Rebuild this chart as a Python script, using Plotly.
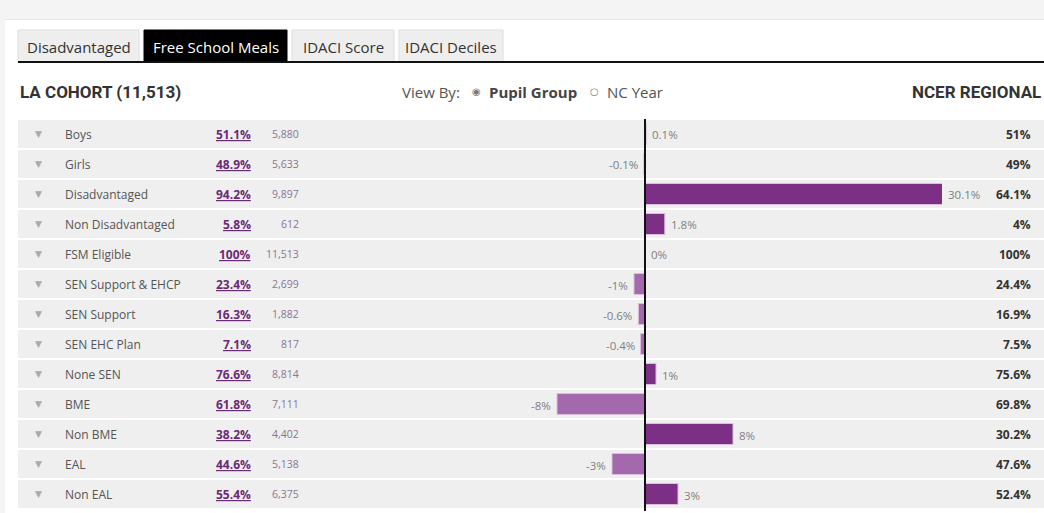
import plotly.graph_objects as go

# ---------------- data ----------------
groups = ["Boys", "Girls", "Disadvantaged", "Non Disadvantaged", "FSM Eligible",
          "SEN Support & EHCP", "SEN Support", "SEN EHC Plan", "None SEN",
          "BME", "Non BME", "EAL", "Non EAL"]
la_pct = [51.1, 48.9, 94.2, 5.8, 100, 23.4, 16.3, 7.1, 76.6, 61.8, 38.2, 44.6, 55.4]
la_count = [5880, 5633, 9897, 612, 11513, 2699, 1882, 817, 8814, 7111, 4402, 5138, 6375]
regional_pct = [51, 49, 64.1, 4, 100, 24.4, 16.9, 7.5, 75.6, 69.8, 30.2, 47.6, 52.4]
difference = [0.1, -0.1, 30.1, 1.8, 0, -1, -0.6, -0.4, 1, -8, 8, -3, 3]
tabs = ["Disadvantaged", "Free School Meals", "IDACI Score", "IDACI Deciles"]
active_tab = "Free School Meals"
cohort_title = "LA COHORT (11,513)"
regional_title = "NCER REGIONAL"

# ---------------- geometry (pixels) ----------------
W, H = 1044, 513
ROW_TOP, ROW_H = 119, 30
N = len(groups)
ROW_BOTTOM = ROW_TOP + ROW_H * N
ZERO_PX = 645
PX_PER_PCT = 11.0
BAR_LEFT_PX, BAR_RIGHT_PX = 300, 942
X_MIN = -(ZERO_PX - BAR_LEFT_PX) / PX_PER_PCT
X_MAX = (BAR_RIGHT_PX - ZERO_PX) / PX_PER_PCT

POS_COL = "#7b3085"
NEG_COL = "#a468ad"
FONT = "Open Sans, DejaVu Sans, sans-serif"
HEAD_FONT = "Roboto, Liberation Sans, sans-serif"


def px(x):
    return x / W


def py(y):
    return 1 - y / H


fig = go.Figure()

colors = [POS_COL if v >= 0 else NEG_COL for v in difference]
fig.add_trace(go.Bar(
    x=difference, y=list(range(N)), orientation="h", base=0,
    marker=dict(color=colors, line=dict(color="#d9bfdc", width=1)),
    width=0.7, hoverinfo="skip", showlegend=False,
))

shapes = []
annotations = []

# page background band / panel
shapes.append(dict(type="rect", xref="paper", yref="paper", x0=0, x1=1, y0=py(19), y1=1,
                   fillcolor="#f4f4f4", line_width=0, layer="below"))
shapes.append(dict(type="rect", xref="paper", yref="paper", x0=0, x1=px(5), y0=0, y1=1,
                   fillcolor="#f4f4f4", line_width=0, layer="below"))
shapes.append(dict(type="line", xref="paper", yref="paper", x0=px(5), x1=1, y0=py(19.5), y1=py(19.5),
                   line=dict(color="#e6e6e6", width=1), layer="below"))

# tabs
tab_x = [(18, 139), (144, 287), (292, 394), (399, 503)]
for name, (a, b) in zip(tabs, tab_x):
    active = name == active_tab
    shapes.append(dict(type="rect", xref="paper", yref="paper", x0=px(a), x1=px(b),
                       y0=py(62), y1=py(30),
                       fillcolor="#000000" if active else "#eeeeee",
                       line=dict(color="#000000" if active else "#dddddd", width=1), layer="below"))
    annotations.append(dict(xref="paper", yref="paper", x=px((a + b) / 2), y=py(47),
                            text=name, showarrow=False, xanchor="center", yanchor="middle",
                            font=dict(family=FONT, size=15, color="#ffffff" if active else "#333333")))
shapes.append(dict(type="line", xref="paper", yref="paper", x0=px(18), x1=1, y0=py(62), y1=py(62),
                   line=dict(color="#111111", width=2)))

# header line
annotations.append(dict(xref="paper", yref="paper", x=px(18), y=py(92), text=f"<b>{cohort_title}</b>",
                        showarrow=False, xanchor="left", yanchor="middle",
                        font=dict(family=HEAD_FONT, size=17, color="#333333")))
annotations.append(dict(xref="paper", yref="paper", x=px(1043), y=py(92), text=f"<b>{regional_title}</b>",
                        showarrow=False, xanchor="right", yanchor="middle",
                        font=dict(family=HEAD_FONT, size=17, color="#333333")))
annotations.append(dict(xref="paper", yref="paper", x=px(400), y=py(92), text="View By:",
                        showarrow=False, xanchor="left", yanchor="middle",
                        font=dict(family=FONT, size=15, color="#555555")))
annotations.append(dict(xref="paper", yref="paper", x=px(476), y=py(91.5), text="◉",
                        showarrow=False, xanchor="center", yanchor="middle",
                        font=dict(family="DejaVu Sans", size=10, color="#777777")))
annotations.append(dict(xref="paper", yref="paper", x=px(487), y=py(92), text="<b>Pupil Group</b>",
                        showarrow=False, xanchor="left", yanchor="middle",
                        font=dict(family=FONT, size=15, color="#444444")))
annotations.append(dict(xref="paper", yref="paper", x=px(594), y=py(91.5), text="○",
                        showarrow=False, xanchor="center", yanchor="middle",
                        font=dict(family="DejaVu Sans", size=10, color="#777777")))
annotations.append(dict(xref="paper", yref="paper", x=px(605), y=py(92), text="NC Year",
                        showarrow=False, xanchor="left", yanchor="middle",
                        font=dict(family=FONT, size=15, color="#555555")))

# table rows
for i, g in enumerate(groups):
    top = ROW_TOP + i * ROW_H
    cy = top + ROW_H / 2
    shapes.append(dict(type="rect", xref="paper", yref="paper", x0=px(18), x1=1,
                       y0=py(top + ROW_H - 1), y1=py(top + 1),
                       fillcolor="#efefef", line_width=0, layer="below"))
    annotations.append(dict(xref="paper", yref="paper", x=px(38), y=py(cy), text="▼",
                            showarrow=False, xanchor="center", yanchor="middle",
                            font=dict(family="DejaVu Sans", size=9, color="#aaaaaa")))
    annotations.append(dict(xref="paper", yref="paper", x=px(63), y=py(cy), text=g,
                            showarrow=False, xanchor="left", yanchor="middle",
                            font=dict(family=FONT, size=12, color="#555555")))
    annotations.append(dict(xref="paper", yref="paper", x=px(253), y=py(cy), text=f"<b><u>{la_pct[i]:g}%</u></b>",
                            showarrow=False, xanchor="right", yanchor="middle",
                            font=dict(family=FONT, size=12, color="#6b2a77")))
    annotations.append(dict(xref="paper", yref="paper", x=px(301), y=py(cy), text=f"{la_count[i]:,}",
                            showarrow=False, xanchor="right", yanchor="middle",
                            font=dict(family=FONT, size=10.5, color="#8c7394")))
    annotations.append(dict(xref="paper", yref="paper", x=px(1033), y=py(cy), text=f"<b>{regional_pct[i]:g}%</b>",
                            showarrow=False, xanchor="right", yanchor="middle",
                            font=dict(family=FONT, size=12, color="#333333")))
    v = difference[i]
    vx = min(max(v, X_MIN), X_MAX)
    neg = v < 0
    annotations.append(dict(xref="x", yref="y", x=vx, y=i, text=f"{v:g}%",
                            showarrow=False, xanchor="right" if neg else "left", yanchor="middle",
                            xshift=-4 if neg else 4, yshift=-1,
                            font=dict(family=FONT, size=11.5, color="#808080")))

# zero line
shapes.append(dict(type="line", xref="x", yref="paper", x0=0, x1=0, y0=py(ROW_BOTTOM + 2), y1=py(ROW_TOP),
                   line=dict(color="#111111", width=2)))

fig.update_layout(
    width=W, height=H,
    margin=dict(l=0, r=0, t=0, b=0),
    paper_bgcolor="#ffffff", plot_bgcolor="rgba(0,0,0,0)",
    xaxis=dict(domain=[px(BAR_LEFT_PX), px(BAR_RIGHT_PX)], range=[X_MIN, X_MAX],
               visible=False, fixedrange=True),
    yaxis=dict(domain=[py(ROW_BOTTOM), py(ROW_TOP)], range=[N - 0.5, -0.5],
               visible=False, fixedrange=True),
    shapes=shapes, annotations=annotations,
    bargap=0.3,
)

fig.write_html("out.html", config={"displayModeBar": False},
               post_script="document.body.style.margin='0';document.body.style.overflow='hidden';")
